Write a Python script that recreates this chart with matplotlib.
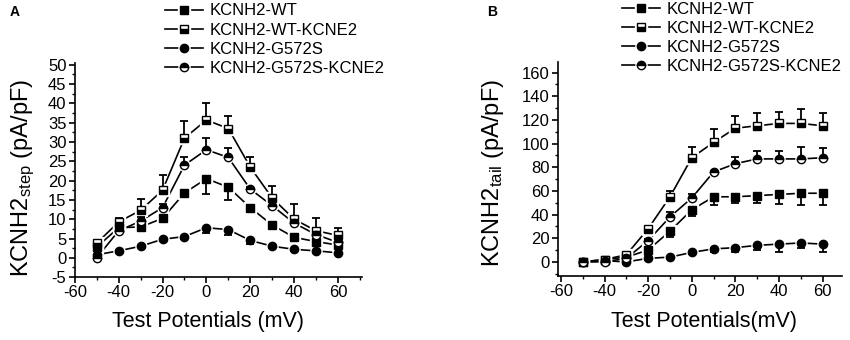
import matplotlib
matplotlib.use("Agg")
import matplotlib.pyplot as plt
from matplotlib.ticker import MultipleLocator
from matplotlib.legend_handler import HandlerTuple
import numpy as np

plt.rcParams['font.family'] = ['Liberation Sans', 'DejaVu Sans']
plt.rcParams['mathtext.default'] = 'regular'
plt.rcParams['axes.unicode_minus'] = False

# test potentials (mV)
voltages = [-50, -40, -30, -20, -10, 0, 10, 20, 30, 40, 50, 60]
labels = ["KCNH2-WT", "KCNH2-WT-KCNE2", "KCNH2-G572S", "KCNH2-G572S-KCNE2"]

# panel A: step current (pA/pF)
step_wt = [2.8, 7.8, 8.0, 10.2, 16.8, 20.5, 18.3, 13.0, 8.5, 5.3, 4.2, 3.3]
step_wt_err = [0.5, 0.5, 0.5, 0.5, 0.5, 4.0, 3.3, 0.5, 0.5, 0.5, 0.5, 0.5]
step_wt_k = [3.8, 9.3, 12.3, 17.5, 31.0, 35.7, 33.5, 23.5, 15.5, 10.0, 7.0, 5.8]
step_wt_k_err = [0.5, 1.0, 3.0, 4.0, 4.5, 4.3, 3.3, 2.7, 3.0, 4.0, 3.3, 2.0]
step_g = [0.8, 1.8, 3.0, 4.8, 5.5, 7.8, 7.3, 4.5, 3.0, 2.2, 1.8, 1.3]
step_g_err = [0.5, 0.5, 0.5, 0.5, 0.5, 1.3, 1.3, 1.0, 0.5, 0.5, 0.5, 0.5]
step_g_k = [0.0, 7.0, 9.5, 13.0, 24.0, 28.0, 26.0, 17.8, 13.5, 9.0, 6.0, 4.0]
step_g_k_err = [0.5, 1.0, 1.0, 1.0, 2.0, 3.0, 2.5, 0.5, 1.0, 1.0, 1.0, 1.0]

# panel B: tail current (pA/pF)
tail_wt = [0, 2, 4, 10, 26, 44, 55, 55, 56, 57, 58, 58]
tail_wt_err = [1, 1, 1, 4, 5, 5, 7, 5, 6, 8, 10, 10]
tail_wt_k = [0, 2, 6, 28, 55, 88, 101, 113, 115, 117, 117, 115]
tail_wt_k_err = [0.5, 1, 1, 1, 5, 9, 11, 10, 11, 10, 12, 11]
tail_g = [0, 1, 0, 3, 4, 8, 11, 12, 14, 15, 16, 15]
tail_g_err = [1, 1, 1, 1, 1, 1, 3, 4, 4, 7, 4, 7]
tail_g_k = [0, 0, 3, 18, 38, 54, 76, 83, 87, 87, 87, 88]
tail_g_k_err = [0.5, 0.5, 1, 1, 4, 3, 1, 6, 7, 7, 10, 8]

styles = [
    dict(marker='s', fillstyle='full'),
    dict(marker='s', fillstyle='bottom'),
    dict(marker='o', fillstyle='full'),
    dict(marker='o', fillstyle='top'),
]
# error bar direction per series: -1 down, +1 up
err_dir = [-1, 1, -1, 1]


def draw_series(ax, y, err, style, direction):
    err = np.array(err)
    zeros = np.zeros_like(err)
    yerr = [err, zeros] if direction < 0 else [zeros, err]
    ax.errorbar(voltages, y, yerr=yerr, fmt='none', ecolor='k',
                elinewidth=1.3, capsize=3, capthick=1.3, zorder=4)
    line, = ax.plot(voltages, y, '-', color='k', lw=1.2, zorder=2)
    # small white halo so the line breaks just before each marker
    gap, = ax.plot(voltages, y, ls='none', marker=style['marker'], ms=8,
                   color='white', mec='white', zorder=3)
    mk, = ax.plot(voltages, y, ls='none', marker=style['marker'], ms=6,
                  color='k', mec='k', mfc='k', mfcalt='white', mew=1.0,
                  fillstyle=style['fillstyle'], zorder=5)
    return (line, gap, mk)


def style_axes(ax, ymajor, yminor):
    for s in ['top', 'right']:
        ax.spines[s].set_visible(False)
    for s in ['left', 'bottom']:
        ax.spines[s].set_linewidth(1.2)
    ax.xaxis.set_major_locator(MultipleLocator(20))
    ax.xaxis.set_minor_locator(MultipleLocator(10))
    ax.yaxis.set_major_locator(MultipleLocator(ymajor))
    ax.yaxis.set_minor_locator(MultipleLocator(yminor))
    ax.tick_params(which='major', direction='out', length=4, width=1.2,
                   labelsize=12, pad=2)
    ax.tick_params(which='minor', direction='out', length=2.5, width=1.0)


fig = plt.figure(figsize=(8.5, 3.4), dpi=100)
hmap = {tuple: HandlerTuple(ndivide=1, pad=0)}

# ---- panel A
ax1 = fig.add_axes([0.088, 0.185, 0.338, 0.63])
handles = []
for y, e, st, d in zip([step_wt, step_wt_k, step_g, step_g_k],
                       [step_wt_err, step_wt_k_err, step_g_err, step_g_k_err],
                       styles, err_dir):
    handles.append(draw_series(ax1, y, e, st, d))
ax1.set_xlim(-60, 71)
ax1.set_ylim(-5, 50.5)
style_axes(ax1, 5, 2.5)
ax1.set_xticks([-60, -40, -20, 0, 20, 40, 60])
ax1.set_yticks(np.arange(-5, 51, 5))
fig.legend(handles, labels, handler_map=hmap,
           loc='upper left', bbox_to_anchor=(0.194, 0.99), frameon=False,
           fontsize=12, handlelength=2.3, handletextpad=0.4,
           labelspacing=0.25, borderpad=0, borderaxespad=0)

fig.text(23 / 850, 0.476, "KCNH2$_{step}$ (pA/pF)", rotation=90,
         ha='center', va='center', fontsize=17)
fig.text(208 / 850, 1 - 322 / 340, "Test Potentials (mV)",
         ha='center', va='center', fontsize=15.5)
fig.text(10 / 850, 1 - 12 / 340, "A", fontsize=10, fontweight='bold',
         ha='left', va='center')

# ---- panel B
ax2 = fig.add_axes([0.656, 0.188, 0.335, 0.63])
handles = []
for y, e, st, d in zip([tail_wt, tail_wt_k, tail_g, tail_g_k],
                       [tail_wt_err, tail_wt_k_err, tail_g_err, tail_g_k_err],
                       styles, err_dir):
    handles.append(draw_series(ax2, y, e, st, d))
ax2.set_xlim(-61.5, 69)
ax2.set_ylim(-12, 169)
style_axes(ax2, 20, 10)
ax2.set_xticks([-60, -40, -20, 0, 20, 40, 60])
ax2.set_yticks(np.arange(0, 161, 20))
fig.legend(handles, labels, handler_map=hmap,
           loc='upper left', bbox_to_anchor=(622 / 850, 0.995), frameon=False,
           fontsize=12, handlelength=2.3, handletextpad=0.4,
           labelspacing=0.25, borderpad=0, borderaxespad=0)

fig.text(493 / 850, 0.49, "KCNH2$_{tail}$ (pA/pF)", rotation=90,
         ha='center', va='center', fontsize=17)
fig.text(704 / 850, 1 - 321 / 340, "Test Potentials(mV)",
         ha='center', va='center', fontsize=15.5)
fig.text(487 / 850, 1 - 12 / 340, "B", fontsize=10, fontweight='bold',
         ha='left', va='center')

fig.savefig("out.png", dpi=100)
